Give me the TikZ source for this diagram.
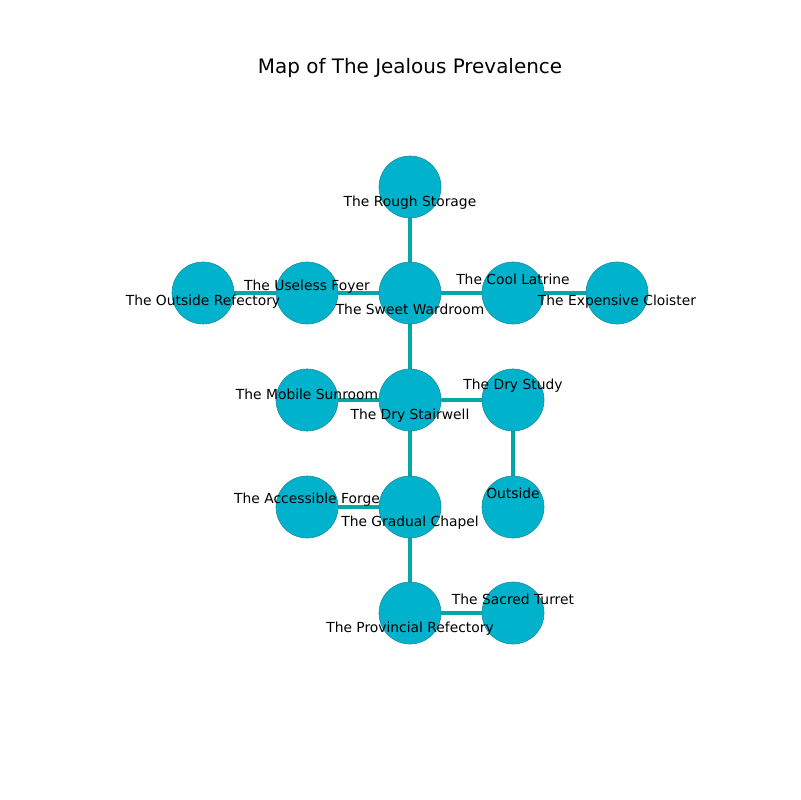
\documentclass[tikz,border=0pt]{standalone}
\usepackage{fontspec}
\setmainfont{DejaVu Sans}
\begin{document}
\begin{tikzpicture}[x=0.01in,y=-0.01in,
  room/.style={circle,draw=rmedge,fill=rmfill,line width=0.4pt,minimum size=0.62in,inner sep=0pt},
  lbl/.style={font=\fontsize{10}{12}\selectfont,inner sep=0pt,anchor=center},
  link/.style={draw=lnk,line width=3.2pt}]
\definecolor{rmfill}{HTML}{00B2CC}
\definecolor{rmedge}{HTML}{1A8A9A}
\definecolor{lnk}{HTML}{00A8A8}
\useasboundingbox (0,0) rectangle (800,800);
\node[font=\fontsize{14.4}{17}\selectfont] (title) at (410,68) {Map of The Jealous Prevalence};
% edges first (below circles)
\coordinate (pRS) at (410,187);
\coordinate (pOR) at (203,293);
\coordinate (pUF) at (307,293);
\coordinate (pSW) at (410,293);
\coordinate (pCL) at (513,293);
\coordinate (pEC) at (617,293);
\coordinate (pMS) at (307,400);
\coordinate (pDS) at (410,400);
\coordinate (pDY) at (513,400);
\coordinate (pAF) at (307,507);
\coordinate (pGC) at (410,507);
\coordinate (pOU) at (513,507);
\coordinate (pPR) at (410,613);
\coordinate (pST) at (513,613);
\path[link] (pRS) -- (pSW);
\path[link] (pOR) -- (pUF);
\path[link] (pUF) -- (pSW);
\path[link] (pSW) -- (pCL);
\path[link] (pCL) -- (pEC);
\path[link] (pSW) -- (pDS);
\path[link] (pMS) -- (pDS);
\path[link] (pDS) -- (pDY);
\path[link] (pDY) -- (pOU);
\path[link] (pDS) -- (pGC);
\path[link] (pAF) -- (pGC);
\path[link] (pGC) -- (pPR);
\path[link] (pPR) -- (pST);
% circles
\node[room] (RS) at (pRS) {};
\node[room] (OR) at (pOR) {};
\node[room] (UF) at (pUF) {};
\node[room] (SW) at (pSW) {};
\node[room] (CL) at (pCL) {};
\node[room] (EC) at (pEC) {};
\node[room] (MS) at (pMS) {};
\node[room] (DS) at (pDS) {};
\node[room] (DY) at (pDY) {};
\node[room] (AF) at (pAF) {};
\node[room] (GC) at (pGC) {};
\node[room] (OU) at (pOU) {};
\node[room] (PR) at (pPR) {};
\node[room] (ST) at (pST) {};
% labels
\node[lbl] (lRS) at (410,203) {The Rough Storage};
\node[lbl] (lOR) at (203,302) {The Outside Refectory};
\node[lbl] (lUF) at (307,287) {The Useless Foyer};
\node[lbl] (lSW) at (410,309) {The Sweet Wardroom};
\node[lbl] (lCL) at (513,279) {The Cool Latrine};
\node[lbl] (lEC) at (617,302) {The Expensive Cloister};
\node[lbl] (lMS) at (307,394) {The Mobile Sunroom};
\node[lbl] (lDS) at (410,416) {The Dry Stairwell};
\node[lbl] (lDY) at (513,386) {The Dry Study};
\node[lbl] (lAF) at (307,500) {The Accessible Forge};
\node[lbl] (lGC) at (410,523) {The Gradual Chapel};
\node[lbl] (lOU) at (513,493) {Outside};
\node[lbl] (lPR) at (410,629) {The Provincial Refectory};
\node[lbl] (lST) at (513,599) {The Sacred Turret};
\end{tikzpicture}
\end{document}
